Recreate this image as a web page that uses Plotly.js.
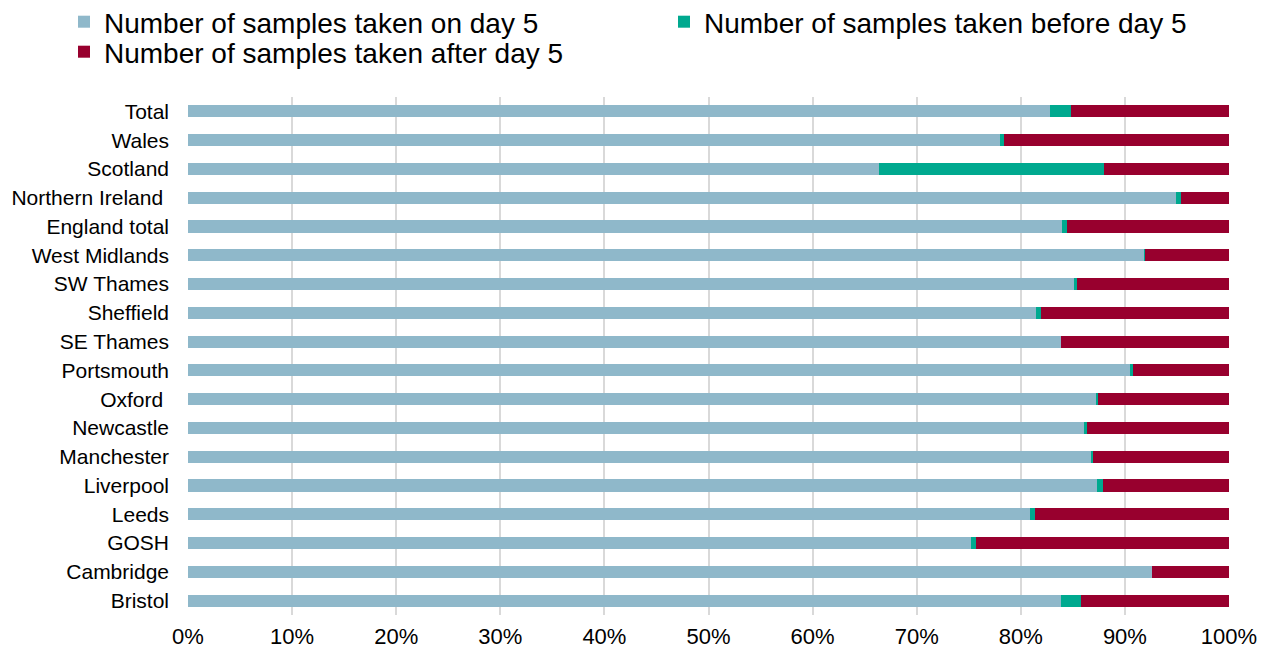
<!DOCTYPE html>
<html>
<head>
<meta charset="utf-8">
<script src="https://cdn.plot.ly/plotly-3.0.1.min.js"></script>
<style>html,body{margin:0;padding:0;background:#fff;}#chart{width:1261px;height:655px;}</style>
</head>
<body>
<div id="chart"></div>
<script>
const regions = ["Total", "Wales", "Scotland", "Northern Ireland\u00a0", "England total", "West Midlands", "SW Thames", "Sheffield", "SE Thames", "Portsmouth", "Oxford\u00a0", "Newcastle", "Manchester", "Liverpool", "Leeds", "GOSH", "Cambridge", "Bristol"];
const onDay5 =    [82.8, 78.0, 66.4, 94.9, 84.0, 91.8, 85.1, 81.5, 83.9, 90.5, 87.2, 86.1, 86.7, 87.3, 80.9, 75.2, 92.6, 83.9];
const beforeDay5 = [2.0, 0.4, 21.6, 0.5, 0.4, 0.1, 0.3, 0.4, 0.0, 0.3, 0.2, 0.3, 0.2, 0.6, 0.5, 0.5, 0.0, 1.9];
const afterDay5 =  [15.2, 21.6, 12.0, 4.6, 15.6, 8.1, 14.6, 18.1, 16.1, 9.2, 12.6, 13.6, 13.1, 12.1, 18.6, 24.3, 7.4, 14.2];
const seriesNames = ["Number of samples taken on day 5", "Number of samples taken before day 5", "Number of samples taken after day 5"];
const xTicks = [0, 10, 20, 30, 40, 50, 60, 70, 80, 90, 100];

const colors = ["#8fb8ca", "#00a98f", "#98002e"];
const legendIds = ["legend", "legend2", "legend3"];
const seriesVals = [onDay5, beforeDay5, afterDay5];
const traces = seriesVals.map((v, i) => ({
  type: "bar",
  orientation: "h",
  name: seriesNames[i],
  legend: legendIds[i],
  x: v,
  y: regions,
  marker: {color: colors[i], line: {width: 0}},
  hoverinfo: "none"
}));

function leg(xpx, ypx) {
  return {
    xref: "container", yref: "container",
    x: xpx / 1261, xanchor: "left",
    y: 1 - ypx / 655, yanchor: "middle",
    bgcolor: "rgba(0,0,0,0)",
    borderwidth: 0,
    font: {size: 28, color: "#000", family: "Liberation Sans, Arial, sans-serif"},
    itemwidth: 30
  };
}

const layout = {
  width: 1261,
  height: 655,
  margin: {l: 188, r: 32, t: 97, b: 40, pad: 0, autoexpand: false},
  barmode: "stack",
  bargap: 0.58,
  paper_bgcolor: "#fff",
  plot_bgcolor: "#fff",
  font: {family: "Liberation Sans, Arial, sans-serif", color: "#000"},
  showlegend: true,
  legend: leg(64, 22),
  legend2: leg(664, 22),
  legend3: leg(64, 52),
  xaxis: {
    range: [0, 100],
    tickvals: xTicks,
    ticktext: xTicks.map(t => t + "%"),
    showgrid: true,
    gridcolor: "#d9d9d9",
    gridwidth: 2,
    zeroline: false,
    showline: false,
    ticks: "",
    ticklabelstandoff: 6,
    tickfont: {size: 22, color: "#000"},
    fixedrange: true
  },
  yaxis: {
    autorange: "reversed",
    type: "category",
    showgrid: false,
    showline: false,
    ticks: "",
    ticklabelstandoff: 18,
    tickfont: {size: 21, color: "#000"},
    fixedrange: true
  }
};

Plotly.newPlot("chart", traces, layout, {displayModeBar: false, staticPlot: true});
</script>
</body>
</html>
